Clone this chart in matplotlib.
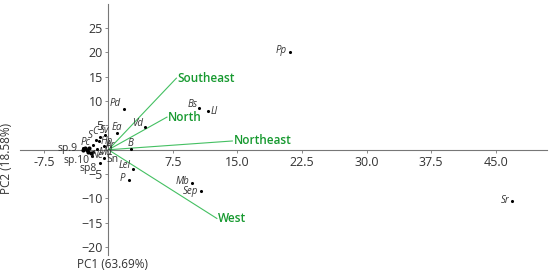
import numpy as np
import matplotlib.pyplot as plt

plt.rcParams['font.family'] = ['Open Sans', 'DejaVu Sans']

# species scores (PC1, PC2)
species = ['Pp', 'Bs', 'Ll', 'Sr', 'Mb', 'Sep', 'Lel', 'P', 'B', 'Pd', 'Vd', 'Ea',
           'Sv', 'C', 'S', 'Pc', 'Hp', 'Ar', 'Md', 'Ne', 'sp.9', 'sp.10', 'sp8', 'Sn']
pc1 = [21.1, 10.5, 11.6, 46.9, 9.7, 10.8, 2.9, 2.4, 2.6, 1.8, 4.3, 1.0,
       -0.4, -1.0, -1.5, -1.8, -1.1, -0.5, -1.3, -1.8, -3.0, -1.9, -1.0, -0.5]
pc2 = [20.0, 8.5, 7.9, -10.6, -6.9, -8.5, -4.0, -6.2, 0.1, 8.3, 4.6, 3.4,
       3.0, 2.6, 2.0, 0.9, 1.7, 0.8, 0.1, -0.4, 0.3, -1.3, -2.8, -1.7]
italic = [True] * 20 + [False] * 4
# label offsets in points (dx, dy, ha)
offs = {'Pp': (-2, 1, 'right'), 'Bs': (-1, 3, 'right'), 'Ll': (2, 0, 'left'),
        'Sr': (-2, 1, 'right'), 'Mb': (-2, 1, 'right'), 'Sep': (-2, 0, 'right'),
        'Lel': (-2, 3, 'right'), 'P': (-3, 1, 'right'), 'B': (0, 4, 'center'),
        'Pd': (-2, 4, 'right'), 'Vd': (-2, 3, 'right'), 'Ea': (0, 4, 'center'),
        'Sv': (0, 3, 'center'), 'C': (-1, 4, 'right'), 'S': (-2, 3, 'right'),
        'Pc': (-2, 2, 'right'), 'Hp': (1, 0, 'left'), 'Ar': (1, 0, 'left'),
        'Md': (1, -2, 'left'), 'Ne': (-1, -3, 'left'), 'sp.9': (-4, 0, 'right'),
        'sp.10': (-2, -3, 'right'), 'sp8': (-2, -4, 'right'), 'Sn': (2, -1, 'left')}

# extra unlabeled points in the sp.9 cluster
extra_x = [-2.7, -2.5, -2.2, -2.9, -2.4, -2.0]
extra_y = [0.4, 0.0, 0.3, -0.1, -0.4, -0.6]

# environmental loadings
env = ['Southeast', 'North', 'Northeast', 'West']
env_x = [7.9, 6.8, 14.4, 12.6]
env_y = [14.7, 6.7, 1.8, -14.1]

fig = plt.figure(figsize=(5.5, 2.73), dpi=100)
ax = fig.add_axes([0.036, 0.066, 0.959, 0.919])
ax.set_xlim(-10.3, 51)
ax.set_ylim(-21.6, 29.9)

for s in ['top', 'right']:
    ax.spines[s].set_visible(False)
for s in ['left', 'bottom']:
    ax.spines[s].set_position(('data', 0))
    ax.spines[s].set_color('#777777')
    ax.spines[s].set_linewidth(0.8)

ax.set_xticks([-7.5, 7.5, 15.0, 22.5, 30.0, 37.5, 45.0])
ax.set_xticklabels(['-7.5', '7.5', '15.0', '22.5', '30.0', '37.5', '45.0'])
ax.set_yticks([-20, -15, -10, -5, 5, 10, 15, 20, 25])
ax.tick_params(axis='both', labelsize=9, colors='#777777', labelcolor='#333333',
               length=2.5, width=0.6)
ax.tick_params(axis='x', pad=2)
ax.tick_params(axis='y', pad=1.5)

for x, y, n in zip(env_x, env_y, env):
    ax.plot([0, x], [0, y], color='#44c062', lw=0.8)
    ax.annotate(n, (x, y), xytext=(1, 0), textcoords='offset points',
                color='#16992f', fontsize=8.5, fontweight='semibold',
                ha='left', va='center')

ax.scatter(pc1, pc2, s=5, color='black', zorder=3, linewidths=0)
ax.scatter(extra_x, extra_y, s=9, color='black', zorder=3, linewidths=0)
for x, y, n, it in zip(pc1, pc2, species, italic):
    dx, dy, ha = offs[n]
    ax.annotate(n, (x, y), xytext=(dx, dy), textcoords='offset points',
                fontsize=7 if it else 7.5, style='italic' if it else 'normal',
                color='#333333', ha=ha, va='center')

fig.text(0.205, 0.03, 'PC1 (63.69%)', fontsize=8.5, color='#333333', ha='center', va='center')
fig.text(0.012, 0.42, 'PC2 (18.58%)', fontsize=8.5, color='#333333', ha='center',
         va='center', rotation=90)

fig.savefig('out.png', dpi=100)
